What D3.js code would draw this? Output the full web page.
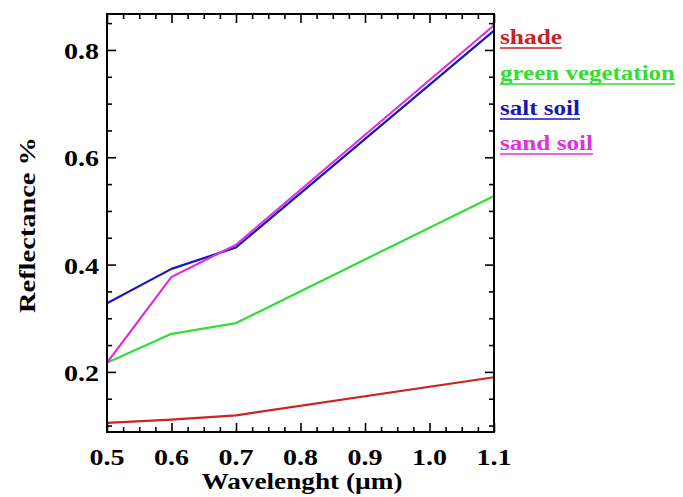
<!DOCTYPE html>
<html><head><meta charset="utf-8">
<script src="https://cdn.jsdelivr.net/npm/d3@7"></script>
<style>body{margin:0;background:#fff}svg{display:block}</style>
</head><body>
<script>
const wavelengths = [0.5, 0.6, 0.7, 1.1];
const shade = [0.105, 0.111, 0.119, 0.19];
const greenVeg = [0.217, 0.271, 0.291, 0.528];
const saltSoil = [0.328, 0.392, 0.432, 0.836];
const sandSoil = [0.217, 0.377, 0.437, 0.846];
const seriesNames = ["shade", "green vegetation", "salt soil", "sand soil"];
const seriesColors = ["#cc2222", "#33dd33", "#1818b8", "#dd33dd"];
const xTicks = [0.5, 0.6, 0.7, 0.8, 0.9, 1.0, 1.1];
const xTickLabels = ["0.5", "0.6", "0.7", "0.8", "0.9", "1.0", "1.1"];
const yTicks = [0.2, 0.4, 0.6, 0.8];
const yTickLabels = ["0.2", "0.4", "0.6", "0.8"];

const W = 683, H = 497;
const m = {l: 107, r: 494, t: 14, b: 432};
const svg = d3.select("body").append("svg").attr("width", W).attr("height", H);
const x = d3.scaleLinear().domain([0.5, 1.1]).range([m.l, m.r]);
const y = d3.scaleLinear().domain([0.088, 0.867]).range([m.b, m.t]);
const font = "'Liberation Serif', 'DejaVu Serif', serif";

const allSeries = [shade, greenVeg, saltSoil, sandSoil];
const line = d3.line().x(d => x(d[0])).y(d => y(d[1]));
svg.append("g").selectAll("path").data(allSeries).join("path")
  .attr("d", s => line(wavelengths.map((w, i) => [w, s[i]])))
  .attr("fill", "none")
  .attr("stroke", (s, i) => seriesColors[i])
  .attr("stroke-width", 2.2)
  .attr("stroke-linejoin", "round");

const xMinor = d3.range(0.5, 1.1001, 0.025).filter(v => Math.abs(Math.round(v*10) - v*10) > 1e-6);
const yMinor = d3.range(0.1, 0.87, 0.05).filter(v => Math.abs(Math.round(v*5) - v*5) > 1e-6);
const yMajorAll = d3.range(0.2, 0.87, 0.2);

function ax(gen, tr, ticks, size) {
  svg.append("g").attr("transform", tr).call(gen.tickValues(ticks).tickSize(size).tickFormat(""))
    .call(g => g.select(".domain").remove())
    .selectAll("line").attr("stroke", "#000").attr("stroke-width", 1.6);
}
ax(d3.axisBottom(x), `translate(0,${m.b})`, xTicks, -9);
ax(d3.axisBottom(x), `translate(0,${m.b})`, xMinor, -5);
ax(d3.axisTop(x), `translate(0,${m.t})`, xTicks, -9);
ax(d3.axisTop(x), `translate(0,${m.t})`, xMinor, -5);
ax(d3.axisLeft(y), `translate(${m.l},0)`, yMajorAll, -9);
ax(d3.axisLeft(y), `translate(${m.l},0)`, yMinor, -5);
ax(d3.axisRight(y), `translate(${m.r},0)`, yMajorAll, -9);
ax(d3.axisRight(y), `translate(${m.r},0)`, yMinor, -5);

svg.append("rect").attr("x", m.l).attr("y", m.t).attr("width", m.r - m.l).attr("height", m.b - m.t)
  .attr("fill", "none").attr("stroke", "#000").attr("stroke-width", 2);

svg.append("g").selectAll("text").data(xTicks).join("text")
  .attr("x", d => x(d)).attr("y", 465).attr("text-anchor", "middle")
  .attr("font-family", font).attr("font-weight", "bold").attr("font-size", 24)
  .attr("textLength", 35).attr("lengthAdjust", "spacingAndGlyphs")
  .text((d, i) => xTickLabels[i]);
svg.append("g").selectAll("text").data(yTicks).join("text")
  .attr("x", 99).attr("y", d => y(d) + 9).attr("text-anchor", "end")
  .attr("font-family", font).attr("font-weight", "bold").attr("font-size", 24)
  .attr("textLength", 35).attr("lengthAdjust", "spacingAndGlyphs")
  .text((d, i) => yTickLabels[i]);

svg.append("text").attr("x", 302).attr("y", 489).attr("text-anchor", "middle")
  .attr("font-family", font).attr("font-weight", "bold").attr("font-size", 24)
  .attr("textLength", 201).attr("lengthAdjust", "spacingAndGlyphs")
  .text("Wavelenght (µm)");
svg.append("text").attr("transform", "translate(35,225) rotate(-90)").attr("text-anchor", "middle")
  .attr("font-family", font).attr("font-weight", "bold").attr("font-size", 24)
  .attr("textLength", 176).attr("lengthAdjust", "spacingAndGlyphs")
  .text("Reflectance %");

const legendY = [44, 80, 115, 150];
const legendW = [62, 175, 80, 93];
const lg = svg.append("g").selectAll("g").data(seriesNames).join("g");
lg.append("text").attr("x", 500).attr("y", (d, i) => legendY[i])
  .attr("font-family", font).attr("font-weight", "bold").attr("font-size", 20)
  .attr("fill", (d, i) => seriesColors[i])
  .attr("textLength", (d, i) => legendW[i]).attr("lengthAdjust", "spacingAndGlyphs")
  .text(d => d);
lg.append("line").attr("x1", 500).attr("x2", (d, i) => 500 + legendW[i])
  .attr("y1", (d, i) => legendY[i] + 4).attr("y2", (d, i) => legendY[i] + 4)
  .attr("stroke", (d, i) => seriesColors[i]).attr("stroke-width", 1.5);
</script>
</body></html>
